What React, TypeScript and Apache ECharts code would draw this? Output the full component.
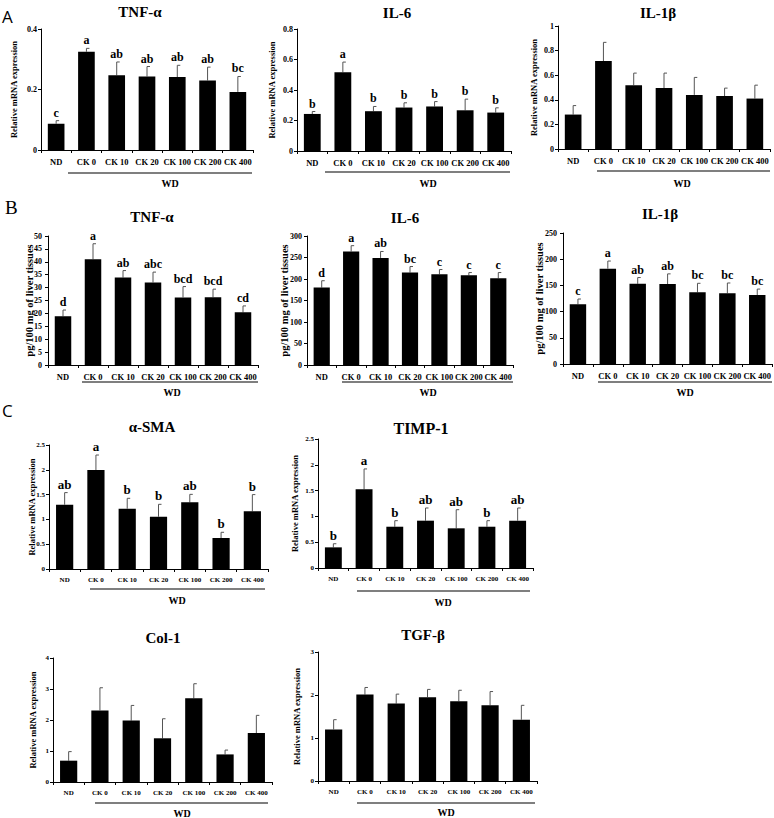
import React, { useEffect, useRef } from "react";
import * as echarts from "echarts";

const CATS = ["ND", "CK 0", "CK 10", "CK 20", "CK 100", "CK 200", "CK 400"];

// Row A: relative mRNA expression
const aTnf = [0.087, 0.325, 0.247, 0.243, 0.241, 0.23, 0.192];
const aTnfSd = [0.01, 0.011, 0.044, 0.033, 0.039, 0.044, 0.051];
const aTnfSig = ["c", "a", "ab", "ab", "ab", "ab", "bc"];

const aIl6 = [0.243, 0.517, 0.261, 0.285, 0.292, 0.267, 0.252];
const aIl6Sd = [0.016, 0.066, 0.031, 0.031, 0.032, 0.073, 0.031];
const aIl6Sig = ["b", "a", "b", "b", "b", "b", "b"];

const aIl1b = [0.28, 0.715, 0.519, 0.495, 0.44, 0.43, 0.41];
const aIl1bSd = [0.073, 0.152, 0.098, 0.122, 0.142, 0.065, 0.109];
const aIl1bSig = ["", "", "", "", "", "", ""];

// Row B: pg/100 mg of liver tissues
const bTnf = [18.9, 41.0, 33.9, 32.0, 26.2, 26.3, 20.4];
const bTnfSd = [2.4, 6.0, 2.7, 4.0, 4.2, 3.1, 2.5];
const bTnfSig = ["d", "a", "ab", "abc", "bcd", "bcd", "cd"];

const bIl6 = [180, 264, 249, 215, 211, 208.5, 201.5];
const bIl6Sd = [16, 13.5, 15, 14, 11, 6.5, 13.5];
const bIl6Sig = ["d", "a", "ab", "bc", "c", "c", "c"];

const bIl1b = [114, 182, 153, 152.7, 136.8, 135, 131.7];
const bIl1bSd = [10, 14.5, 12, 19.3, 17.2, 19.6, 11.3];
const bIl1bSig = ["c", "a", "ab", "ab", "bc", "bc", "bc"];

// Row C: fibrosis markers
const cSma = [1.297, 1.996, 1.216, 1.055, 1.344, 0.625, 1.163];
const cSmaSd = [0.243, 0.302, 0.209, 0.249, 0.161, 0.115, 0.337];
const cSmaSig = ["ab", "a", "b", "b", "ab", "b", "b"];

const cTimp = [0.4, 1.525, 0.8, 0.917, 0.769, 0.8, 0.917];
const cTimpSd = [0.07, 0.395, 0.117, 0.246, 0.361, 0.117, 0.246];
const cTimpSig = ["b", "a", "b", "ab", "ab", "b", "ab"];

const cCol = [0.688, 2.31, 1.98, 1.41, 2.7, 0.89, 1.58];
const cColSd = [0.292, 0.73, 0.49, 0.63, 0.47, 0.14, 0.57];
const cColSig = ["", "", "", "", "", "", ""];

const cTgf = [1.2, 2.01, 1.8, 1.95, 1.855, 1.76, 1.426];
const cTgfSd = [0.226, 0.165, 0.22, 0.18, 0.255, 0.32, 0.334];
const cTgfSig = ["", "", "", "", "", "", ""];

const MRNA = "Relative mRNA expression";
const PG = "pg/100 mg of liver tissues";
const SERIF = "'Liberation Serif', 'Times New Roman', serif";

type Panel = {
  title: string;
  vals: number[];
  sd: number[];
  sig: string[];
  max: number;
  interval: number;
  yName: string;
  grid: { left: number; top: number; width: number; height: number };
  titlePos: [number, number];
  wd: { y: number; x1: number; x2: number; ty: number; tx: number };
  nameGap: number;
  nameSize: number;
  tickSize: number;
  tickMargin: number;
  catSize: number;
  sigSize: number;
  titleSize: number;
};

const panels: Panel[] = [
  { title: "TNF-α", vals: aTnf, sd: aTnfSd, sig: aTnfSig, max: 0.4, interval: 0.2, yName: MRNA,
    grid: { left: 41, top: 29, width: 212, height: 121 }, titlePos: [140, 12],
    wd: { y: 173, x1: 68, x2: 252, ty: 183, tx: 170 }, nameGap: 23, nameSize: 8.5, tickSize: 8, tickMargin: 4, catSize: 8.5, sigSize: 12, titleSize: 15 },
  { title: "IL-6", vals: aIl6, sd: aIl6Sd, sig: aIl6Sig, max: 0.8, interval: 0.2, yName: MRNA,
    grid: { left: 297, top: 29, width: 214, height: 122 }, titlePos: [397, 13],
    wd: { y: 172, x1: 325, x2: 510, ty: 183, tx: 428 }, nameGap: 21, nameSize: 8.5, tickSize: 8, tickMargin: 4, catSize: 8.5, sigSize: 12, titleSize: 15 },
  { title: "IL-1β", vals: aIl1b, sd: aIl1bSd, sig: aIl1bSig, max: 1, interval: 0.2, yName: MRNA,
    grid: { left: 558, top: 26, width: 212, height: 123 }, titlePos: [658, 13],
    wd: { y: 171, x1: 597, x2: 770, ty: 183, tx: 682 }, nameGap: 20, nameSize: 8.5, tickSize: 8, tickMargin: 4, catSize: 8.5, sigSize: 12, titleSize: 15 },
  { title: "TNF-α", vals: bTnf, sd: bTnfSd, sig: bTnfSig, max: 50, interval: 5, yName: PG,
    grid: { left: 48, top: 236, width: 210, height: 129 }, titlePos: [152, 217],
    wd: { y: 382, x1: 82, x2: 258, ty: 392, tx: 172 }, nameGap: 13, nameSize: 10.5, tickSize: 8, tickMargin: 6, catSize: 8.5, sigSize: 12, titleSize: 15 },
  { title: "IL-6", vals: bIl6, sd: bIl6Sd, sig: bIl6Sig, max: 300, interval: 50, yName: PG,
    grid: { left: 307, top: 236, width: 206, height: 129 }, titlePos: [405, 218],
    wd: { y: 382, x1: 342, x2: 513, ty: 392, tx: 428 }, nameGap: 17, nameSize: 10.5, tickSize: 8, tickMargin: 5, catSize: 8.5, sigSize: 12, titleSize: 15 },
  { title: "IL-1β", vals: bIl1b, sd: bIl1bSd, sig: bIl1bSig, max: 250, interval: 50, yName: PG,
    grid: { left: 563, top: 233, width: 210, height: 131 }, titlePos: [660, 214],
    wd: { y: 382, x1: 598, x2: 772, ty: 392, tx: 685 }, nameGap: 18, nameSize: 10.5, tickSize: 8, tickMargin: 6, catSize: 8.5, sigSize: 12, titleSize: 15 },
  { title: "α-SMA", vals: cSma, sd: cSmaSd, sig: cSmaSig, max: 2.5, interval: 0.5, yName: MRNA,
    grid: { left: 49, top: 445, width: 219, height: 124 }, titlePos: [152, 427],
    wd: { y: 589, x1: 90, x2: 265, ty: 600, tx: 177 }, nameGap: 13, nameSize: 8.5, tickSize: 7, tickMargin: 4, catSize: 7, sigSize: 13, titleSize: 15 },
  { title: "TIMP-1", vals: cTimp, sd: cTimpSd, sig: cTimpSig, max: 2.5, interval: 0.5, yName: MRNA,
    grid: { left: 318, top: 439, width: 215, height: 129 }, titlePos: [421, 428],
    wd: { y: 591, x1: 357, x2: 530, ty: 602, tx: 443 }, nameGap: 19, nameSize: 8.5, tickSize: 7, tickMargin: 4, catSize: 7, sigSize: 13, titleSize: 16 },
  { title: "Col-1", vals: cCol, sd: cColSd, sig: cColSig, max: 4, interval: 1, yName: MRNA,
    grid: { left: 53, top: 658, width: 219, height: 124 }, titlePos: [163, 638],
    wd: { y: 803, x1: 95, x2: 268, ty: 813, tx: 182 }, nameGap: 16, nameSize: 8.5, tickSize: 7, tickMargin: 4, catSize: 7, sigSize: 13, titleSize: 15 },
  { title: "TGF-β", vals: cTgf, sd: cTgfSd, sig: cTgfSig, max: 3, interval: 1, yName: MRNA,
    grid: { left: 318, top: 652, width: 219, height: 129 }, titlePos: [423, 635],
    wd: { y: 803, x1: 357, x2: 535, ty: 812, tx: 446 }, nameGap: 17, nameSize: 8.5, tickSize: 7, tickMargin: 4, catSize: 7, sigSize: 13, titleSize: 15 },
];

export default function App() {
  const ref = useRef<HTMLDivElement>(null);
  useEffect(() => {
    if (!ref.current) return;
    const chart = echarts.init(ref.current, undefined, { renderer: "svg" });
    const grid: any[] = [];
    const xAxis: any[] = [];
    const yAxis: any[] = [];
    const series: any[] = [];
    const graphic: any[] = [];

    panels.forEach((p, i) => {
      grid.push({ ...p.grid, containLabel: false });
      xAxis.push({
        gridIndex: i,
        type: "category",
        data: CATS,
        axisLine: { lineStyle: { color: "#000", width: 1 } },
        axisTick: { show: true, length: 3, lineStyle: { color: "#000" } },
        axisLabel: { interval: 0, color: "#000", fontFamily: SERIF, fontWeight: "bold", fontSize: p.catSize, margin: 7, hideOverlap: false },
      });
      yAxis.push({
        gridIndex: i,
        type: "value",
        min: 0,
        max: p.max,
        interval: p.interval,
        splitLine: { show: false },
        axisLine: { show: true, lineStyle: { color: "#000", width: 1 } },
        axisTick: { show: true, length: 3, lineStyle: { color: "#000" } },
        axisLabel: { color: "#000", fontFamily: SERIF, fontWeight: "bold", fontSize: p.tickSize, margin: p.tickMargin },
        name: p.yName,
        nameLocation: "middle",
        nameGap: p.nameGap,
        nameMoveOverlap: false,
        nameTextStyle: { color: "#000", fontFamily: SERIF, fontWeight: "bold", fontSize: p.nameSize },
      });
      series.push({
        type: "bar",
        xAxisIndex: i,
        yAxisIndex: i,
        data: p.vals,
        barWidth: "55%",
        itemStyle: { color: "#000" },
        silent: true,
      });
      const sigs = p.sig;
      const sigSize = p.sigSize;
      series.push({
        type: "custom",
        xAxisIndex: i,
        yAxisIndex: i,
        silent: true,
        data: p.vals.map((v, k) => [k, v, v + p.sd[k]]),
        renderItem: (params: any, api: any) => {
          const k = api.value(0);
          const base = api.coord([k, api.value(1)]);
          const top = api.coord([k, api.value(2)]);
          const children: any[] = [
            { type: "line", shape: { x1: base[0], y1: base[1], x2: top[0], y2: top[1] }, style: { stroke: "#555", lineWidth: 1 } },
            { type: "line", shape: { x1: top[0], y1: top[1], x2: top[0] + 3, y2: top[1] }, style: { stroke: "#555", lineWidth: 1 } },
          ];
          const s = sigs[k];
          if (s) {
            children.push({
              type: "text",
              style: { text: s, x: top[0], y: top[1] - 2, align: "center", verticalAlign: "bottom", fill: "#000", font: `bold ${sigSize}px ${SERIF}` },
            });
          }
          return { type: "group", children };
        },
      });
      graphic.push({
        type: "text",
        x: p.titlePos[0],
        y: p.titlePos[1],
        style: { text: p.title, align: "center", verticalAlign: "middle", fill: "#000", font: `bold ${p.titleSize}px ${SERIF}` },
      });
      graphic.push({
        type: "line",
        shape: { x1: p.wd.x1, y1: p.wd.y, x2: p.wd.x2, y2: p.wd.y },
        style: { stroke: "#000", lineWidth: 1.2 },
      });
      graphic.push({
        type: "text",
        x: p.wd.tx,
        y: p.wd.ty,
        style: { text: "WD", align: "center", verticalAlign: "middle", fill: "#000", font: `bold 10px ${SERIF}` },
      });
    });

    graphic.push({ type: "text", x: 2, y: 16, style: { text: "A", verticalAlign: "middle", fill: "#000", font: `17px 'Open Sans', sans-serif` } });
    graphic.push({ type: "text", x: 5, y: 207, style: { text: "B", verticalAlign: "middle", fill: "#000", font: `19px ${SERIF}` } });
    graphic.push({ type: "text", x: 2, y: 410, style: { text: "C", verticalAlign: "middle", fill: "#000", font: `17px 'Open Sans', sans-serif` } });

    chart.setOption({
      animation: false,
      backgroundColor: "#fff",
      grid,
      xAxis,
      yAxis,
      series,
      graphic,
    });
    return () => chart.dispose();
  }, []);
  return <div ref={ref} style={{ position: "absolute", left: 0, top: 0, width: 774, height: 818 }} />;
}
